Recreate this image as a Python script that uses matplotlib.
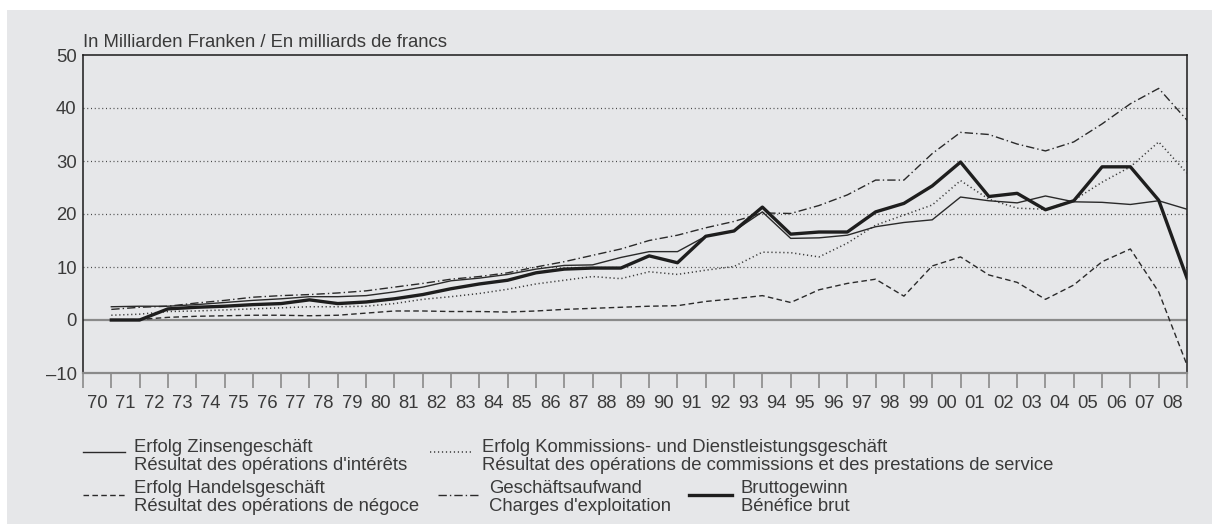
import matplotlib.pyplot as plt
from matplotlib.patches import Rectangle
from matplotlib.lines import Line2D
import numpy as np

years = list(range(1970, 2009))
year_labels = ['{:02d}'.format(y % 100) for y in years]

zinsen = [2.5, 2.6, 2.6, 2.9, 3.3, 3.7, 4.0, 4.4, 4.4, 4.6, 5.3, 6.2, 7.4, 7.9, 8.6, 9.6,
          10.3, 10.4, 11.8, 12.9, 12.9, 15.8, 16.8, 20.4, 15.4, 15.5, 16.0, 17.6, 18.4,
          18.9, 23.2, 22.5, 22.1, 23.4, 22.3, 22.2, 21.8, 22.5, 20.9]
kommission = [0.9, 1.1, 1.6, 1.7, 1.9, 2.1, 2.3, 2.5, 2.5, 2.6, 3.1, 3.9, 4.4, 5.0, 5.8,
              6.8, 7.5, 8.2, 7.8, 9.1, 8.6, 9.4, 10.1, 12.8, 12.7, 11.9, 14.5, 17.9, 19.8,
              21.7, 26.3, 22.8, 21.1, 20.9, 22.6, 26.0, 28.9, 33.6, 27.7]
handel = [0.0, 0.1, 0.5, 0.7, 0.8, 0.9, 0.9, 0.8, 0.9, 1.3, 1.7, 1.7, 1.6, 1.6, 1.5, 1.7,
          2.0, 2.2, 2.4, 2.6, 2.7, 3.5, 4.0, 4.6, 3.3, 5.7, 6.9, 7.7, 4.5, 10.2, 11.9, 8.5,
          7.1, 3.9, 6.6, 11.0, 13.4, 5.3, -8.5]
aufwand = [2.0, 2.4, 2.6, 3.2, 3.7, 4.3, 4.6, 4.8, 5.1, 5.5, 6.2, 6.9, 7.7, 8.2, 8.9, 10.0,
           11.0, 12.2, 13.4, 15.0, 16.0, 17.4, 18.6, 20.2, 20.1, 21.6, 23.6, 26.4, 26.4,
           31.4, 35.4, 35.0, 33.2, 31.9, 33.6, 37.0, 40.8, 43.7, 37.7]
brutto = [0.0, 0.0, 2.1, 2.4, 2.6, 2.9, 3.1, 3.8, 3.1, 3.4, 4.0, 4.8, 5.9, 6.8, 7.5, 8.9,
          9.6, 9.8, 9.8, 12.1, 10.8, 15.8, 16.8, 21.3, 16.2, 16.6, 16.6, 20.4, 22.0, 25.3,
          29.8, 23.3, 23.9, 20.8, 22.5, 28.9, 28.9, 22.6, 7.9]

plt.rcParams['font.family'] = ['Liberation Sans', 'DejaVu Sans']
txt = '#3a3a3a'
bg = '#e6e7e9'
fs = 13.3

fig = plt.figure(figsize=(12.19, 5.30), dpi=100)
W, H = 1219.0, 530.0
fig.patches.append(Rectangle((7 / W, 6 / H), 1205 / W, 514 / H, transform=fig.transFigure,
                             facecolor=bg, edgecolor='none', zorder=-10))

ax = fig.add_axes([83 / W, 1 - 373 / H, 1104 / W, 318 / H])
ax.set_facecolor(bg)

# data points sit at the right end of each year slot
x = np.arange(len(years)) + 1

styles = {
    'zinsen': dict(color='#2a2a2a', lw=1.0, ls='-'),
    'kommission': dict(color='#3a3a3a', lw=1.1, ls=(0, (0.8, 1.8))),
    'handel': dict(color='#2a2a2a', lw=1.0, ls=(0, (4.0, 2.4))),
    'aufwand': dict(color='#2a2a2a', lw=1.0, ls=(0, (6.0, 2.2, 1.0, 2.2))),
    'brutto': dict(color='#1e1e1e', lw=2.4, ls='-'),
}

ax.axhline(0, color='#8a8a8a', lw=1.6, zorder=1)
for g in [10, 20, 30, 40]:
    ax.axhline(g, color='#444444', lw=0.9, ls=(0, (0.8, 2.2)), zorder=1)

ax.plot(x, handel, **styles['handel'], zorder=3)
ax.plot(x, kommission, **styles['kommission'], zorder=3)
ax.plot(x, aufwand, **styles['aufwand'], zorder=3)
ax.plot(x, zinsen, **styles['zinsen'], zorder=4)
ax.plot(x, brutto, **styles['brutto'], zorder=5)

ax.set_xlim(0, len(years))
ax.set_ylim(-10, 50)

ax.set_xticks(np.arange(len(years) + 1))
ax.set_xticklabels([])
ax.set_xticks(np.arange(len(years)) + 0.5, minor=True)
ax.set_xticklabels(year_labels, minor=True)
ax.tick_params(axis='x', which='major', direction='out', length=11, width=1.2, color='#8a8a8a')
ax.tick_params(axis='x', which='minor', length=0, pad=15.5, labelsize=fs, labelcolor=txt)
ax.xaxis.get_major_ticks()[-1].tick1line.set_color('black')

ax.set_yticks([-10, 0, 10, 20, 30, 40, 50])
ax.set_yticklabels(['\u201310', '0', '10', '20', '30', '40', '50'])
ax.tick_params(axis='y', length=0, pad=4.5, labelsize=fs, labelcolor=txt)

for s in ['top', 'left', 'right']:
    ax.spines[s].set_color('#1a1a1a')
    ax.spines[s].set_linewidth(1.1)
ax.spines['bottom'].set_color('#8a8a8a')
ax.spines['bottom'].set_linewidth(1.6)

fig.text(83 / W, 1 - 47 / H, 'In Milliarden Franken / En milliards de francs',
         fontsize=fs, color=txt, va='baseline', ha='left')

# legend drawn by hand
legend = [
    ('zinsen', 83, 125, 452, 134, 'Erfolg Zinsengeschäft', "Résultat des opérations d'intérêts"),
    ('handel', 83, 125, 495, 134, 'Erfolg Handelsgeschäft', 'Résultat des opérations de négoce'),
    ('kommission', 430, 471, 452, 482, 'Erfolg Kommissions- und Dienstleistungsgeschäft',
     'Résultat des opérations de commissions et des prestations de service'),
    ('aufwand', 438, 481, 495, 489, 'Geschäftsaufwand', "Charges d'exploitation"),
    ('brutto', 689, 732, 495, 741, 'Bruttogewinn', 'Bénéfice brut'),
]
for key, x0, x1, ly, tx, l1, l2 in legend:
    fig.add_artist(Line2D([x0 / W, x1 / W], [1 - ly / H, 1 - ly / H],
                          transform=fig.transFigure, **styles[key]))
    top = ly - 0.5 if ly < 470 else ly - 2
    fig.text(tx / W, 1 - top / H, l1, fontsize=fs, color=txt, va='baseline')
    fig.text(tx / W, 1 - (top + 18) / H, l2, fontsize=fs, color=txt, va='baseline')

plt.savefig('out.png', dpi=100)
